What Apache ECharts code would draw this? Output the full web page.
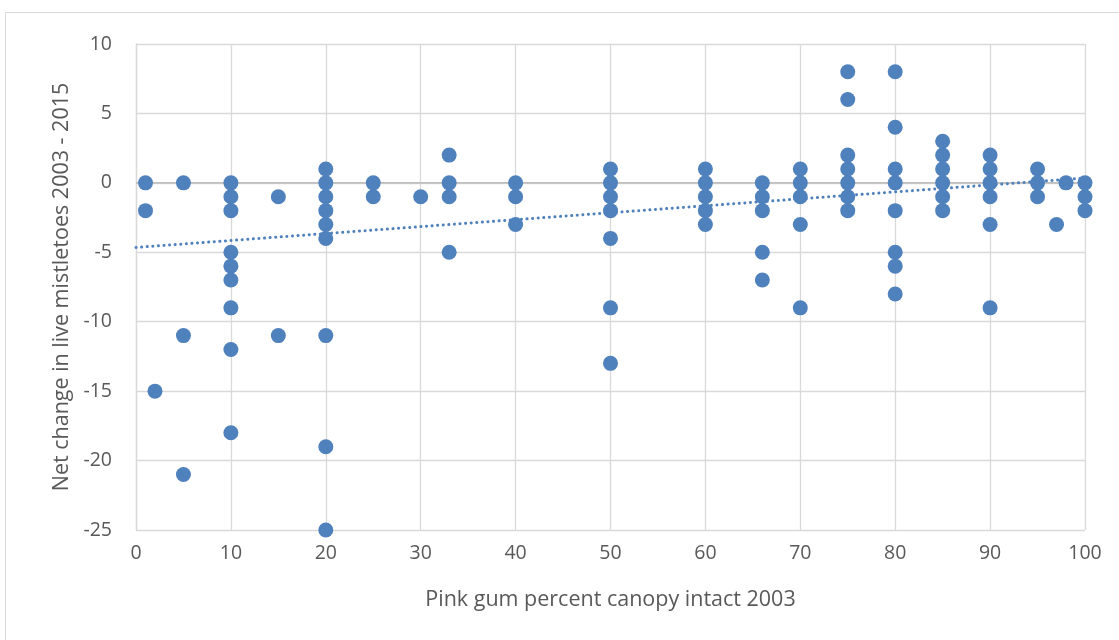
<!DOCTYPE html>
<html>
<head>
<meta charset="utf-8">
<script src="https://cdn.jsdelivr.net/npm/echarts@6/dist/echarts.min.js"></script>
<style>
  html, body { margin: 0; padding: 0; background: #fff; }
  #chart { width: 1119px; height: 640px; }
</style>
</head>
<body>
<div id="chart"></div>
<script>
// Canopy intact (%) for each tree, and net change in live mistletoes
const canopyPct = [
  1, 1,
  2,
  5, 5, 5,
  10, 10, 10, 10, 10, 10, 10, 10, 10,
  15, 15,
  20, 20, 20, 20, 20, 20, 20, 20, 20,
  25, 25,
  30,
  33, 33, 33, 33,
  40, 40, 40,
  50, 50, 50, 50, 50, 50, 50,
  60, 60, 60, 60, 60,
  66, 66, 66, 66, 66,
  70, 70, 70, 70, 70,
  75, 75, 75, 75, 75, 75, 75,
  80, 80, 80, 80, 80, 80, 80, 80,
  85, 85, 85, 85, 85, 85,
  90, 90, 90, 90, 90, 90,
  95, 95, 95,
  97,
  98,
  100, 100, 100
];
const mistletoeChange = [
  0, -2,
  -15,
  0, -11, -21,
  0, -1, -2, -5, -6, -7, -9, -12, -18,
  -1, -11,
  1, 0, -1, -2, -3, -4, -11, -19, -25,
  0, -1,
  -1,
  2, 0, -1, -5,
  0, -1, -3,
  1, 0, -1, -2, -4, -9, -13,
  1, 0, -1, -2, -3,
  0, -1, -2, -5, -7,
  1, 0, -1, -3, -9,
  8, 6, 2, 1, 0, -1, -2,
  8, 4, 1, 0, -2, -5, -6, -8,
  3, 2, 1, 0, -1, -2,
  2, 1, 0, -1, -3, -9,
  1, 0, -1,
  -3,
  0,
  0, -1, -2
];
// Linear trend line (fitted on the full data set, incl. overlapping trees)
const trendIntercept = -4.65;
const trendSlope = 0.05;

const xTicks = [0, 100, 10];   // min, max, interval
const yTicks = [-25, 10, 5];

const points = canopyPct.map((x, i) => [x, mistletoeChange[i]]);
const trend = [xTicks[0], xTicks[1]].map(x => [x, trendIntercept + trendSlope * x]);

const labelColor = '#595959';
const font = '"Open Sans", "Noto Sans", sans-serif';

const chart = echarts.init(document.getElementById('chart'), null, { renderer: 'canvas' });
chart.setOption({
  animation: false,
  backgroundColor: '#fff',
  graphic: [{
    type: 'rect',
    shape: { x: 5.5, y: 12.5, width: 1130, height: 640 },
    style: { fill: 'none', stroke: '#d9d9d9', lineWidth: 1 },
    silent: true
  }],
  grid: { left: 136, right: 34, top: 44, bottom: 110, containLabel: false },
  xAxis: {
    type: 'value',
    min: xTicks[0], max: xTicks[1], interval: xTicks[2],
    name: 'Pink gum percent canopy intact 2003',
    nameLocation: 'middle',
    nameGap: 59,
    nameTextStyle: { color: labelColor, fontSize: 21.5, fontFamily: font },
    axisLine: { show: false },
    axisTick: { show: false },
    axisLabel: { color: labelColor, fontSize: 19.5, fontFamily: font, margin: 13 },
    splitLine: { show: true, lineStyle: { color: '#d9d9d9', width: 1.3 } }
  },
  yAxis: {
    type: 'value',
    min: yTicks[0], max: yTicks[1], interval: yTicks[2],
    name: 'Net change in live mistletoes 2003 - 2015',
    nameLocation: 'middle',
    nameGap: 62,
    nameTextStyle: { color: labelColor, fontSize: 21.5, fontFamily: font },
    axisLine: { show: true, onZero: false, lineStyle: { color: '#d9d9d9', width: 1.3 } },
    axisTick: { show: false },
    axisLabel: { color: labelColor, fontSize: 19.5, fontFamily: font, margin: 24 },
    splitLine: { show: true, lineStyle: { color: '#d9d9d9', width: 1.3 } }
  },
  series: [
    {
      type: 'line',
      data: [[xTicks[0], 0], [xTicks[1], 0]],
      symbol: 'none',
      lineStyle: { color: '#bfbfbf', width: 1.8 },
      silent: true,
      z: 1
    },
    {
      type: 'scatter',
      data: points,
      symbolSize: 15,
      itemStyle: { color: '#4f81bd', opacity: 1 },
      z: 3
    },
    {
      type: 'line',
      data: trend,
      symbol: 'none',
      lineStyle: { color: '#4f81bd', width: 3, type: [0.1, 5.5], cap: 'round' },
      silent: true,
      z: 4
    }
  ]
});
</script>
</body>
</html>
